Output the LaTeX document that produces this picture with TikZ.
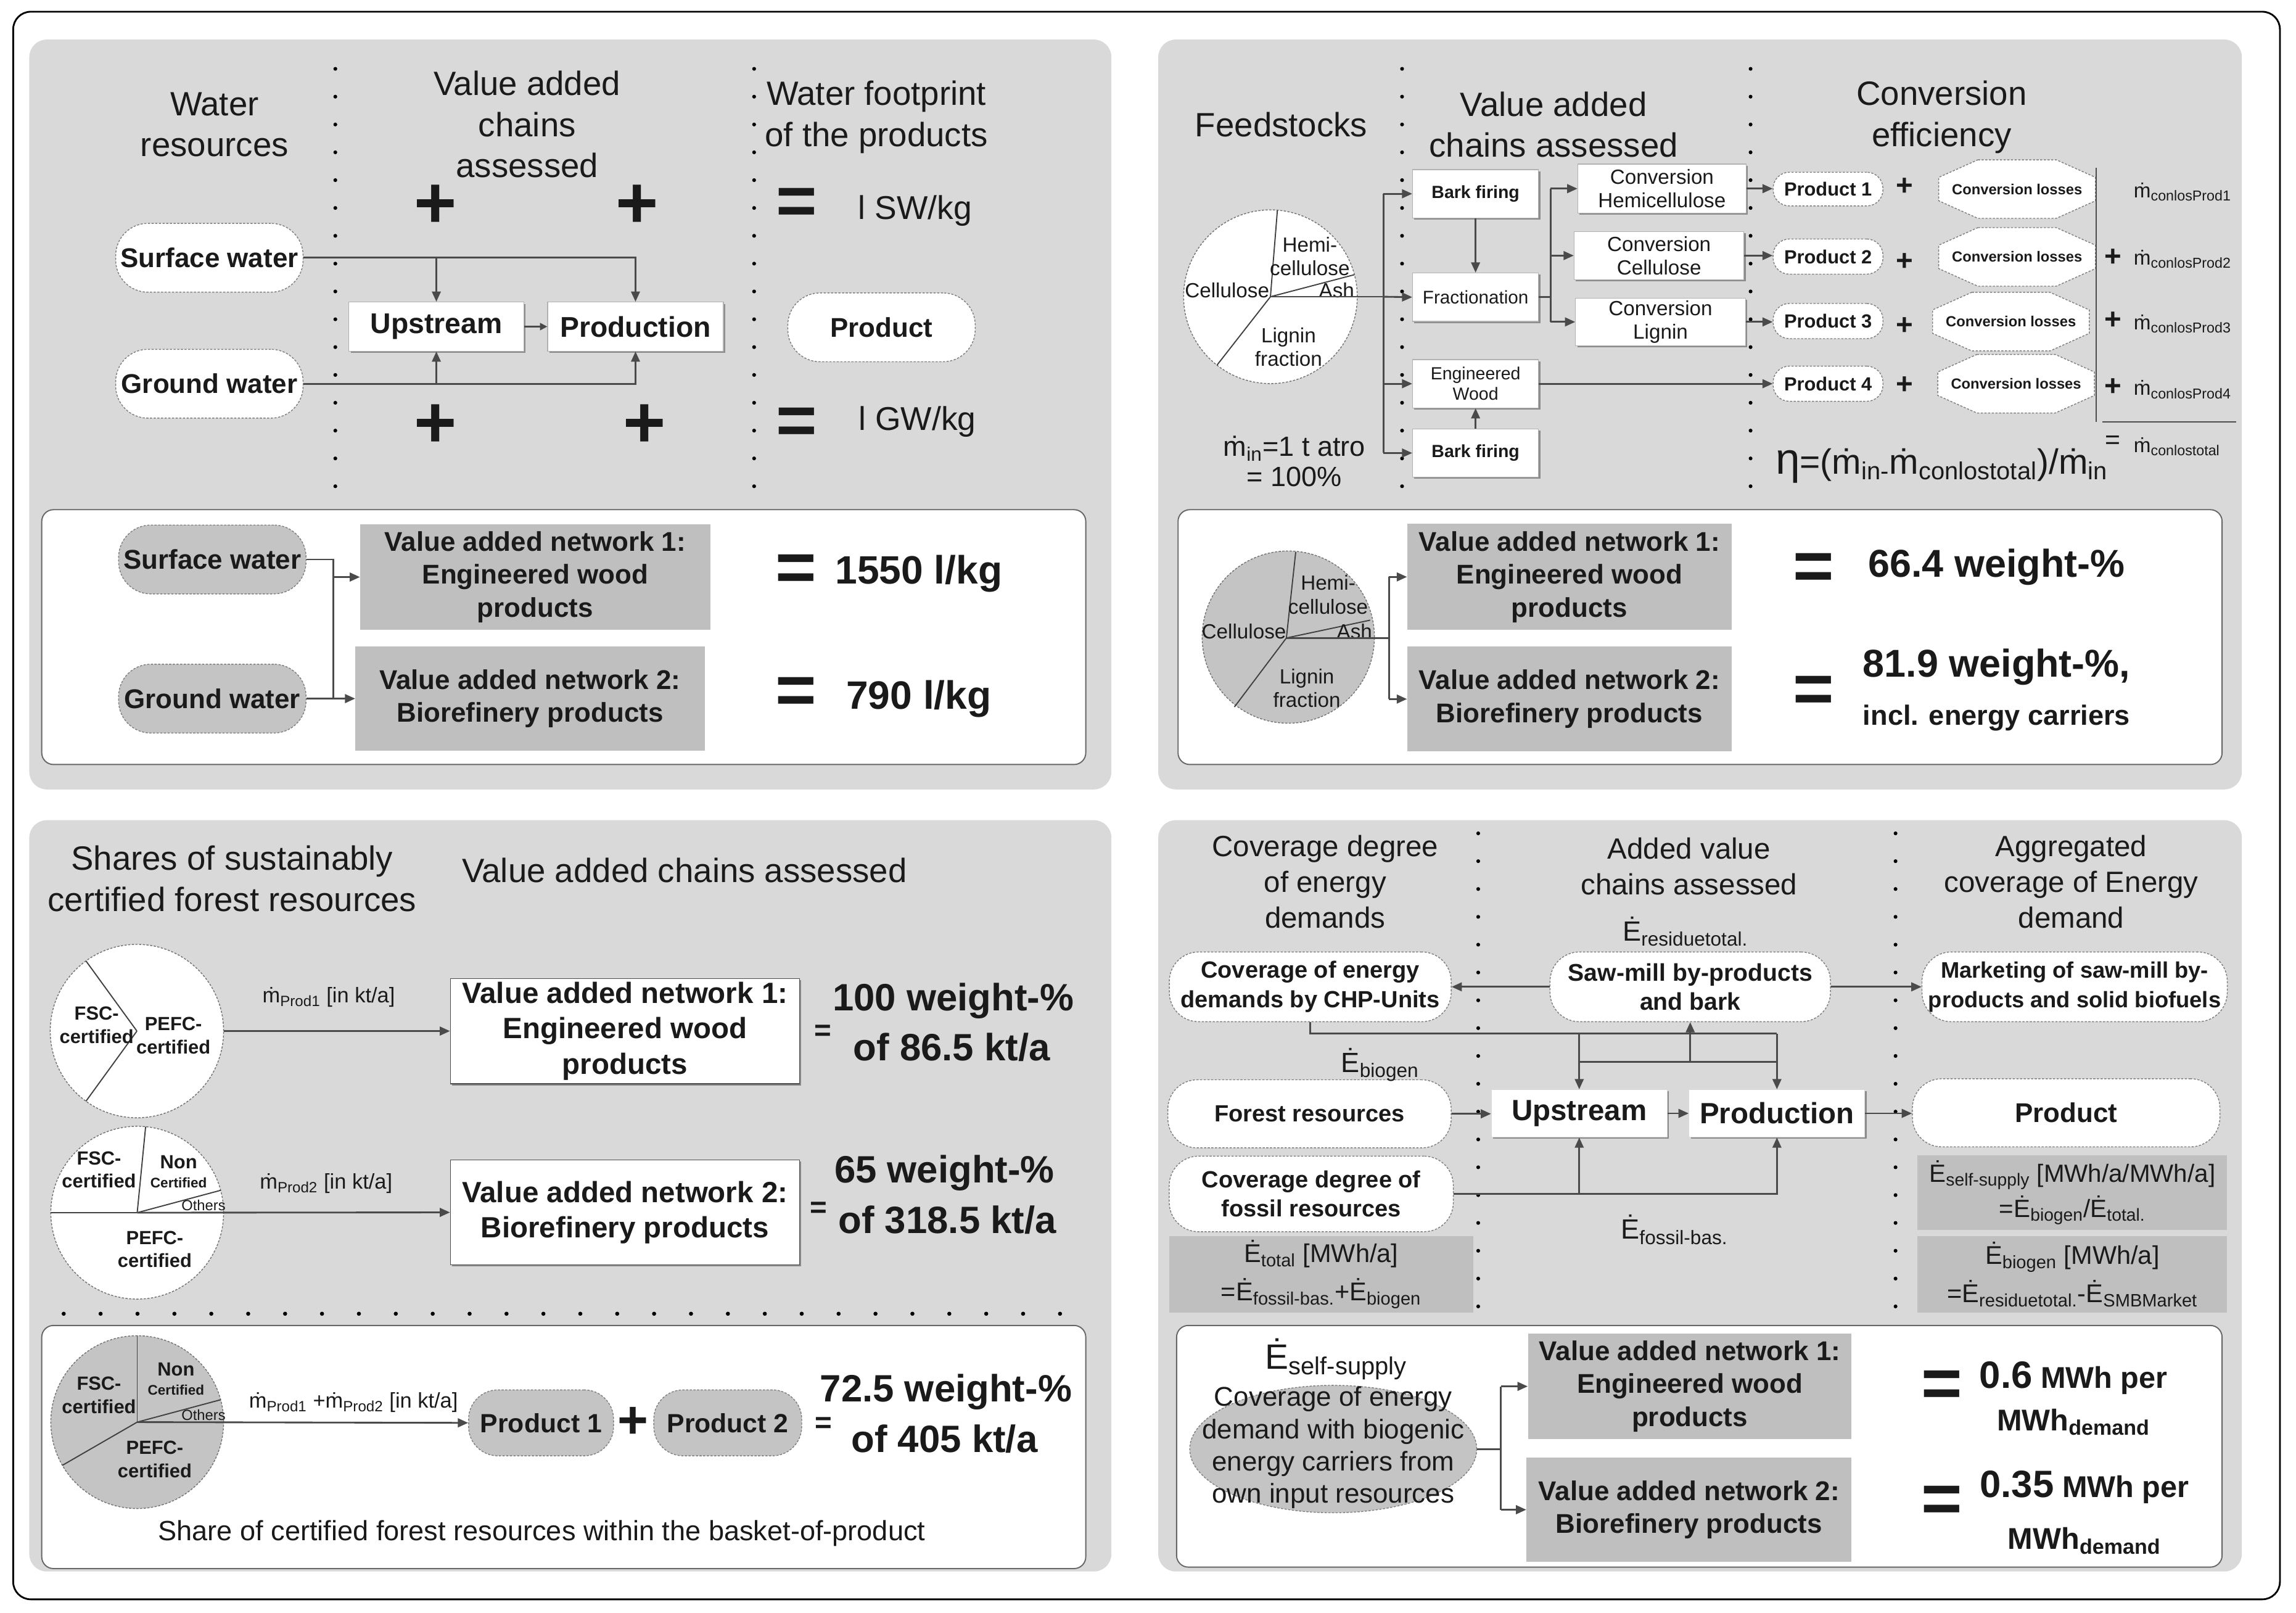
\documentclass[tikz,border=0pt]{standalone}
\usepackage{fontspec}
\setmainfont{Liberation Sans}
\newfontfamily\dejavu{DejaVu Sans}
\usetikzlibrary{arrows.meta,shapes.geometric,shadows}
\definecolor{panel}{HTML}{D9D9D9}
\definecolor{dbox}{HTML}{BFBFBF}
\definecolor{gpie}{HTML}{C4C4C4}
\definecolor{lnc}{HTML}{4A4A4A}
\definecolor{txt}{HTML}{1A1A1A}
\newcommand\fs[2]{\fontsize{#1}{#2}\selectfont}
\newcommand\dm{\iffontchar\font"1E41 \char"1E41\relax\else{\dejavu\char"1E41\relax}\fi}
\newcommand\sbs[1]{\textsubscript{#1}}
\begin{document}
\begin{tikzpicture}[x=1pt,y=-1pt,
  every node/.append style={text=txt},
  ttl/.style={align=center,inner sep=0pt,font=\fs{23}{28}},
  lbl/.style={align=center,inner sep=0pt},
  pill/.style={rectangle,rounded corners=#1,fill=white,draw=black!50,line width=0.6pt,dash pattern=on 1.5pt off 1pt,inner sep=0pt,align=center},
  gpill/.style={pill=#1,fill=gpie},
  shdw/.style={drop shadow={shadow xshift=1.2pt,shadow yshift=-1.2pt,fill=black!45,opacity=1}},
  wbox/.style={rectangle,fill=white,draw=black!30,line width=0.5pt,inner sep=0pt,align=center,shdw},
  gbox/.style={rectangle,fill=dbox,draw=none,inner sep=0pt,align=center},
  cnx/.style={draw=lnc,line width=1.2pt},
  arw/.style={cnx,-{Triangle[length=7pt,width=6pt]}},
  dotline/.style={draw=black,line width=2.6pt,line cap=round,dash pattern=on 0pt off 19pt},
  hdotline/.style={draw=black,line width=2.8pt,line cap=round,dash pattern=on 0pt off 25.2pt},
  bigeq/.style={inner sep=0pt,font=\bfseries\fs{48}{48}},
  bigplus/.style={inner sep=0pt,font=\bfseries\fs{50}{50}},
  octb/.style={fill=white,draw=black!50,line width=0.6pt,dash pattern=on 1.5pt off 1pt},
  pieb/.style={draw=black!55,line width=0.6pt,dash pattern=on 1.5pt off 1pt},
  piel/.style={draw=black!75,line width=0.8pt},
  vanf/.style={font=\bfseries\fs{18.5}{22.5}},
  resf/.style={lbl,font=\bfseries\fs{26}{30}}
]
\useasboundingbox (0,0) rectangle (1568,1101);
\fill[white] (0,0) rectangle (1568,1101);
\draw[black,line width=1.2pt,rounded corners=12pt] (9,8) rectangle (1557,1092);

% ================= Q1 =================
\fill[panel,rounded corners=12pt] (20,27) rectangle (759,539);
\filldraw[fill=white,draw=black!60,line width=0.8pt,rounded corners=8pt] (28.5,348) rectangle (741.5,522);
\node[ttl] (t1a) at (146.5,85) {Water\\resources};
\node[ttl] (t1b) at (360,85) {Value added\\chains\\assessed};
\node[ttl] (t1c) at (598.5,80) {Water footprint\\of the products};
\draw[dotline] (229,47) -- (229,332);
\draw[dotline] (515,47) -- (515,332);
\node[bigplus] (pl1) at (297.5,141) {+};
\node[bigplus] (pl2) at (435,141) {+};
\node[bigplus] (pl3) at (297.5,291) {+};
\node[bigplus] (pl4) at (440,291) {+};
\node[bigeq] (eq1) at (544,141) {=};
\node[bigeq] (eq2) at (544,291) {=};
\node[lbl,font=\fs{22.5}{26}] (swkg) at (625,144) {l SW/kg};
\node[lbl,font=\fs{22.5}{26}] (gwkg) at (626.5,288) {l GW/kg};
\node[pill=22pt,minimum width=128pt,minimum height=47pt,font=\bfseries\fs{18.5}{22}] (sw1) at (143,176) {Surface water};
\node[pill=22pt,minimum width=128pt,minimum height=47pt,font=\bfseries\fs{18.5}{22}] (gw1) at (143,262) {Ground water};
\node[wbox,minimum width=119.5pt,minimum height=33.5pt,font=\bfseries\fs{19.5}{22}] (up1) at (298,223) {Upstream};
\node[wbox,minimum width=120pt,minimum height=33.5pt,font=\bfseries\fs{19.5}{22}] (pr1) at (434,223) {Production};
\node[pill=22pt,minimum width=128pt,minimum height=47pt,font=\bfseries\fs{18.5}{22}] (pd1) at (602,223.5) {Product};
\draw[arw] (sw1.east) -| (pr1.north);
\draw[arw] (sw1.east -| up1.north) -- (up1.north);
\draw[arw] (gw1.east) -| (pr1.south);
\draw[arw] (gw1.east -| up1.south) -- (up1.south);
\draw[cnx,line width=0.9pt,-{Triangle[length=5pt,width=5pt]}] (up1.east) -- (pr1.west);
% Q1 lower
\node[gpill=22pt,minimum width=128pt,minimum height=47pt,font=\bfseries\fs{18.5}{22}] (sw2) at (145,382) {Surface water};
\node[gpill=22pt,minimum width=128pt,minimum height=47pt,font=\bfseries\fs{18.5}{22}] (gw2) at (145,477) {Ground water};
\node[gbox,minimum width=239pt,minimum height=72pt,vanf] (v1a) at (365.5,394) {Value added network 1:\\Engineered wood\\products};
\node[gbox,minimum width=238.5pt,minimum height=71.5pt,vanf] (v2a) at (362,477) {Value added network 2:\\Biorefinery products};
\coordinate (j1) at (227.5,382);
\draw[cnx] (sw2.east) -- (j1) -- (j1 |- gw2.east);
\draw[arw] (j1 |- v1a.west) -- (v1a.west);
\draw[arw] (gw2.east) -- (v2a.west);
\node[bigeq] (eq3) at (543.5,391) {=};
\node[bigeq] (eq4) at (543.5,475) {=};
\node[lbl,font=\bfseries\fs{27}{30}] (r1a) at (627.5,391.6) {1550 l/kg};
\node[lbl,font=\bfseries\fs{27}{30}] (r2a) at (627.5,477) {790 l/kg};

% ================= Q2 =================
\fill[panel,rounded corners=12pt] (791,27) rectangle (1531,539);
\filldraw[fill=white,draw=black!60,line width=0.8pt,rounded corners=8pt] (804.5,348) rectangle (1517.5,522);
\node[ttl] (t2a) at (875,85) {Feedstocks};
\node[ttl] (t2b) at (1061,85) {Value added\\chains assessed};
\node[ttl] (t2c) at (1326,80) {Conversion\\efficiency};
\draw[dotline] (957.5,47) -- (957.5,332);
\draw[dotline] (1195.5,47) -- (1195.5,332);
% pie
\coordinate (pc1) at (867.6,202.6);
\draw[pieb,fill=white] (pc1) circle[radius=59.3pt];
\draw[piel] (pc1) -- ++(85.4:59.3pt);
\draw[piel] (pc1) -- ++(14.7:59.3pt);
\draw[piel] (pc1) -- ++(232:59.3pt);
\node[lbl,font=\fs{14}{16}] (ph1) at (894.5,175) {Hemi-\\cellulose};
\node[lbl,font=\fs{14}{16}] (pcel1) at (838,198.4) {Cellulose};
\node[lbl,font=\fs{14}{16}] (pash1) at (912.8,198.4) {Ash};
\node[lbl,font=\fs{14}{16}] (plg1) at (880,237) {Lignin\\fraction};
\node[lbl,font=\fs{19}{21}] (min) at (884,315) {\dm\sbs{in}=1 t atro\\= 100\%};
% boxes
\node[wbox,minimum width=86pt,minimum height=33pt,font=\bfseries\fs{12}{14}] (bf1) at (1007.7,132.3) {Bark firing};
\node[wbox,minimum width=86pt,minimum height=33pt,font=\fs{12.5}{14}] (fr) at (1007.7,202.9) {Fractionation};
\node[wbox,minimum width=86pt,minimum height=33pt,font=\fs{12}{14}] (ew) at (1007.7,262) {Engineered\\Wood};
\node[wbox,minimum width=86pt,minimum height=33pt,font=\bfseries\fs{12}{14}] (bf2) at (1007.7,309.3) {Bark firing};
\node[wbox,minimum width=115pt,minimum height=33.5pt,font=\fs{14}{16}] (ch) at (1135,128.8) {Conversion\\Hemicellulose};
\node[wbox,minimum width=116pt,minimum height=33pt,font=\fs{14}{16}] (cc) at (1133,174.5) {Conversion\\Cellulose};
\node[wbox,minimum width=116pt,minimum height=32.5pt,font=\fs{14}{16}] (cl) at (1134,219.8) {Conversion\\Lignin};
\coordinate (br1) at (944.7,202.6);
\draw[cnx] (pc1) -- (br1);
\draw[cnx] (br1 |- bf1.west) -- (br1 |- bf2.west);
\draw[arw] (br1 |- bf1.west) -- (bf1.west);
\draw[arw] (br1) -- (fr.west);
\draw[arw] (br1 |- ew.west) -- (ew.west);
\draw[arw] (br1 |- bf2.west) -- (bf2.west);
\draw[arw] (bf1.south) -- (fr.north);
\draw[arw] (bf2.north) -- (ew.south);
\coordinate (br2) at (1059,202.9);
\draw[cnx] (fr.east) -- (br2);
\draw[cnx] (br2 |- ch.west) -- (br2 |- cl.west);
\draw[arw] (br2 |- ch.west) -- (ch.west);
\draw[arw] (br2 |- cc.west) -- (cc.west);
\draw[arw] (br2 |- cl.west) -- (cl.west);
% products
\node[pill=11pt,minimum width=75pt,minimum height=23pt,font=\bfseries\fs{13}{15}] (p1) at (1248.4,129.1) {Product 1};
\node[pill=11pt,minimum width=75pt,minimum height=24pt,font=\bfseries\fs{13}{15}] (p2) at (1248.4,175.2) {Product 2};
\node[pill=11pt,minimum width=75pt,minimum height=24pt,font=\bfseries\fs{13}{15}] (p3) at (1248.4,219.2) {Product 3};
\node[pill=11pt,minimum width=75pt,minimum height=24pt,font=\bfseries\fs{13}{15}] (p4) at (1248.4,262) {Product 4};
\draw[arw] (ch.east) -- (ch.east -| p1.west);
\draw[arw] (cc.east) -- (cc.east -| p2.west);
\draw[arw] (cl.east) -- (cl.east -| p3.west);
\draw[arw] (ew.east) -- (ew.east -| p4.west);
\node[lbl,font=\bfseries\fs{20}{20}] (pa1) at (1300.7,127.5) {+};
\node[lbl,font=\bfseries\fs{20}{20}] (pa2) at (1300.7,179) {+};
\node[lbl,font=\bfseries\fs{20}{20}] (pa3) at (1300.7,222.6) {+};
\node[lbl,font=\bfseries\fs{20}{20}] (pa4) at (1300.7,263) {+};
% octagons
\draw[octb,shift={(1377.5,129.1)}] (-26.75,-20) -- (26.75,-20) -- (53.5,-8) -- (53.5,8) -- (26.75,20) -- (-26.75,20) -- (-53.5,8) -- (-53.5,-8) -- cycle;
\draw[octb,shift={(1377.5,175.4)}] (-26.75,-20) -- (26.75,-20) -- (53.5,-8) -- (53.5,8) -- (26.75,20) -- (-26.75,20) -- (-53.5,8) -- (-53.5,-8) -- cycle;
\draw[octb,shift={(1373.3,219.6)}] (-26.75,-20) -- (26.75,-20) -- (53.5,-8) -- (53.5,8) -- (26.75,20) -- (-26.75,20) -- (-53.5,8) -- (-53.5,-8) -- cycle;
\draw[octb,shift={(1376.8,262)}] (-26.75,-20) -- (26.75,-20) -- (53.5,-8) -- (53.5,8) -- (26.75,20) -- (-26.75,20) -- (-53.5,8) -- (-53.5,-8) -- cycle;
\node[lbl,font=\bfseries\fs{10}{12}] (o1) at (1377.5,129.1) {Conversion losses};
\node[lbl,font=\bfseries\fs{10}{12}] (o2) at (1377.5,175.4) {Conversion losses};
\node[lbl,font=\bfseries\fs{10}{12}] (o3) at (1373.3,219.6) {Conversion losses};
\node[lbl,font=\bfseries\fs{10}{12}] (o4) at (1376.8,262) {Conversion losses};
\draw[black!70,line width=0.8pt] (1431.5,114.6) -- (1431.5,288);
\draw[black!70,line width=1pt] (1435.8,288) -- (1527,288);
\node[lbl,font=\bfseries\fs{20}{20}] (pb2) at (1443,175.9) {+};
\node[lbl,font=\bfseries\fs{20}{20}] (pb3) at (1443,218.9) {+};
\node[lbl,font=\bfseries\fs{20}{20}] (pb4) at (1443,264.5) {+};
\node[lbl,font=\fs{18}{18}] (eqm) at (1443,302) {=};
\node[lbl,anchor=west,font=\fs{14}{16}] (m1) at (1457,131) {\dm\sbs{conlosProd1}};
\node[lbl,anchor=west,font=\fs{14}{16}] (m2) at (1457,177) {\dm\sbs{conlosProd2}};
\node[lbl,anchor=west,font=\fs{14}{16}] (m3) at (1457,221) {\dm\sbs{conlosProd3}};
\node[lbl,anchor=west,font=\fs{14}{16}] (m4) at (1457,266) {\dm\sbs{conlosProd4}};
\node[lbl,anchor=west,font=\fs{14}{16}] (m5) at (1457,305) {\dm\sbs{conlostotal}};
\node[lbl,font=\fs{24}{26}] (eta) at (1326,318) {{\fs{30}{30}η}=(\dm\sbs{in-}\dm\sbs{conlostotal})/\dm\sbs{in}};
% Q2 lower
\coordinate (pc2) at (878.5,435.6);
\draw[pieb,fill=gpie] (879.8,435) circle[radius=58.8pt];
\draw[piel] (pc2) -- ++(83.8:59pt);
\draw[piel] (pc2) -- ++(12:58.5pt);
\draw[piel] (pc2) -- ++(233:59pt);
\node[lbl,font=\fs{14}{16.5}] (ph2) at (907,406) {Hemi-\\cellulose};
\node[lbl,font=\fs{14}{16}] (pcel2) at (849.5,431) {Cellulose};
\node[lbl,font=\fs{14}{16}] (pash2) at (925,431) {Ash};
\node[lbl,font=\fs{14}{16}] (plg2) at (892.5,470) {Lignin\\fraction};
\node[gbox,minimum width=221.5pt,minimum height=72.3pt,vanf] (v1b) at (1071.8,393.9) {Value added network 1:\\Engineered wood\\products};
\node[gbox,minimum width=221.5pt,minimum height=71.5pt,vanf] (v2b) at (1071.8,477.3) {Value added network 2:\\Biorefinery products};
\coordinate (br3) at (948.5,435.6);
\draw[cnx] (pc2) -- (br3);
\draw[cnx] (br3 |- v1b.west) -- (br3 |- v2b.west);
\draw[arw] (br3 |- v1b.west) -- (v1b.west);
\draw[arw] (br3 |- v2b.west) -- (v2b.west);
\node[bigeq] (eq5) at (1238.5,390.2) {=};
\node[bigeq] (eq6) at (1238.5,474) {=};
\node[lbl,font=\bfseries\fs{26.5}{30}] (r1b) at (1363.5,387.4) {66.4 weight-\%};
\node[lbl,font=\bfseries\fs{26.5}{30}] (r2b) at (1363.5,455.4) {81.9 weight-\%,};
\node[lbl,font=\bfseries\fs{19}{22}] (r3b) at (1363.5,490.3) {incl. energy carriers};

% ================= Q3 =================
\fill[panel,rounded corners=12pt] (20,560) rectangle (759,1073);
\filldraw[fill=white,draw=black!60,line width=0.8pt,rounded corners=8pt] (28.5,905) rectangle (741.5,1071);
\node[ttl] (t3a) at (158.5,600) {Shares of sustainably\\certified forest resources};
\node[ttl] (t3b) at (467.5,594.2) {Value added chains assessed};
% pie 1
\coordinate (pq1) at (93.5,704);
\draw[pieb,fill=white] (pq1) circle[radius=59.2pt];
\draw[piel] (pq1) -- ++(126:59.2pt);
\draw[piel] (pq1) -- ++(234:59.2pt);
\node[lbl,font=\bfseries\fs{13}{15.8}] (fsc1) at (66,700) {FSC-\\certified};
\node[lbl,font=\bfseries\fs{13}{15.8}] (pefc1) at (118.4,707) {PEFC-\\certified};
\coordinate (pe1) at (152.7,704);
\node[wbox,draw=black!70,minimum width=238.5pt,minimum height=72pt,font=\bfseries\fs{20}{24.2}] (v1c) at (426.8,704) {Value added network 1:\\Engineered wood\\products};
\draw[arw] (pe1) -- (v1c.west);
\node[lbl,font=\fs{14.5}{16}] (lq1) at (224.5,681) {\dm\sbs{Prod1} [in kt/a]};
\node[lbl,font=\bfseries\fs{20}{20}] (eq7) at (562,705) {=};
\node[resf] (r1c) at (651,683.5) {100 weight-\%};
\node[resf] (r1cb) at (650,715) {of 86.5 kt/a};
% pie 2
\coordinate (pq2) at (93.7,828);
\draw[pieb,fill=white] (pq2) circle[radius=59pt];
\draw[piel] (pq2) -- ++(180:59pt);
\draw[piel] (pq2) -- ++(84.4:59pt);
\draw[piel] (pq2) -- ++(15:59pt);
\node[lbl,font=\bfseries\fs{13}{15.8}] (fsc2) at (67.6,798.7) {FSC-\\certified};
\node[lbl,font=\bfseries\fs{13}{15}] (non2) at (122,793.6) {Non};
\node[lbl,font=\bfseries\fs{9.5}{11}] (nc2) at (122,807.5) {Certified};
\node[lbl,font=\fs{10}{11}] (oth2) at (139,823) {Others};
\node[lbl,font=\bfseries\fs{13}{15.8}] (pefc2) at (105.7,853) {PEFC-\\certified};
\node[wbox,draw=black!70,minimum width=238.5pt,minimum height=71.5pt,font=\bfseries\fs{20}{24.2}] (v2c) at (426.8,827.8) {Value added network 2:\\Biorefinery products};
\draw[arw] (pq2) -- (v2c.west);
\node[lbl,font=\fs{14.5}{16}] (lq2) at (222.7,808) {\dm\sbs{Prod2} [in kt/a]};
\node[lbl,font=\bfseries\fs{20}{20}] (eq8) at (559,826) {=};
\node[resf] (r2c) at (645,801) {65 weight-\%};
\node[resf] (r2cb) at (647,833) {of 318.5 kt/a};
\draw[hdotline] (43.5,897) -- (724,897);
% pie 3
\coordinate (pq3) at (93.7,971);
\draw[pieb,fill=gpie] (pq3) circle[radius=59pt];
\draw[piel] (pq3) -- ++(90:59pt);
\draw[piel] (pq3) -- ++(15:59pt);
\draw[piel] (pq3) -- ++(210:59pt);
\node[lbl,font=\bfseries\fs{13}{15.8}] (fsc3) at (67.6,952.7) {FSC-\\certified};
\node[lbl,font=\bfseries\fs{13}{15}] (non3) at (120.2,935) {Non};
\node[lbl,font=\bfseries\fs{9.5}{11}] (nc3) at (120.2,949) {Certified};
\node[lbl,font=\fs{10}{11}] (oth3) at (139,966) {Others};
\node[lbl,font=\bfseries\fs{13}{15.8}] (pefc3) at (105.7,996.3) {PEFC-\\certified};
\node[gpill=20pt,minimum width=99pt,minimum height=45pt,font=\bfseries\fs{18}{20}] (pr3a) at (369.5,971.5) {Product 1};
\node[gpill=20pt,minimum width=101pt,minimum height=45pt,font=\bfseries\fs{18}{20}] (pr3b) at (497,971.5) {Product 2};
\draw[arw] (pq3) -- (pr3a.west);
\node[lbl,font=\fs{14.5}{16}] (lq3) at (241.4,957.7) {\dm\sbs{Prod1} +\dm\sbs{Prod2} [in kt/a]};
\node[lbl,font=\bfseries\fs{36}{36}] (pl5) at (432.5,971.2) {+};
\node[lbl,font=\bfseries\fs{20}{20}] (eq9) at (562.5,973) {=};
\node[resf] (r3c) at (646,950.4) {72.5 weight-\%};
\node[resf] (r3cb) at (645,982.5) {of 405 kt/a};
\node[lbl,font=\fs{19}{22}] (share) at (370,1047) {Share of certified forest resources within the basket-of-product};

% ================= Q4 =================
\fill[panel,rounded corners=12pt] (791,560) rectangle (1531,1073);
\filldraw[fill=white,draw=black!60,line width=0.8pt,rounded corners=8pt] (803.5,905) rectangle (1517.5,1070);
\node[ttl,font=\fs{20}{24.5}] (t4a) at (905,602) {Coverage degree\\of energy\\demands};
\node[ttl,font=\fs{20}{24.5}] (t4b) at (1153.5,591.5) {Added value\\chains assessed};
\node[ttl,font=\fs{20}{24.5}] (t4c) at (1414.5,602) {Aggregated\\coverage of Energy\\demand};
\draw[dotline] (1009.5,569) -- (1009.5,892);
\draw[dotline] (1294.5,569) -- (1294.5,892);
\node[lbl,font=\fs{19}{21}] (eres) at (1151,636) {Ė\sbs{residuetotal.}};
\node[pill=20pt,minimum width=192.5pt,minimum height=47.6pt,font=\bfseries\fs{16}{20}] (chp) at (894.8,673.8) {Coverage of energy\\demands by CHP-Units};
\node[pill=20pt,minimum width=191.5pt,minimum height=47.6pt,font=\bfseries\fs{16.5}{20}] (saw) at (1154.3,673.8) {Saw-mill by-products\\and bark};
\node[pill=20pt,minimum width=208.5pt,minimum height=47.6pt,font=\bfseries\fs{15.3}{20}] (mkt) at (1416.8,673.8) {Marketing of saw-mill by-\\products and solid biofuels};
\draw[arw] (saw.west) -- (chp.east);
\draw[arw] (saw.east) -- (mkt.west);
\node[pill=20pt,minimum width=193.5pt,minimum height=46.5pt,font=\bfseries\fs{16}{20}] (frs) at (894.3,760.5) {Forest resources};
\node[lbl,font=\fs{19}{21}] (ebio) at (942.5,727) {Ė\sbs{biogen}};
\node[wbox,draw=black!15,minimum width=120pt,minimum height=32.4pt,font=\bfseries\fs{20}{22}] (up4) at (1078.5,760.2) {Upstream};
\node[wbox,draw=black!15,minimum width=120pt,minimum height=32.4pt,font=\bfseries\fs{20}{22}] (pr4) at (1213.5,760.2) {Production};
\node[pill=20pt,minimum width=210pt,minimum height=46.5pt,font=\bfseries\fs{18.5}{20}] (pp4) at (1411,759.8) {Product};
\node[pill=20pt,minimum width=194pt,minimum height=51.6pt,font=\bfseries\fs{16}{20}] (fos) at (895.5,815.2) {Coverage degree of\\fossil resources};
\coordinate (h1) at (0,705.7);
\coordinate (h2) at (0,725);
\draw[cnx] (chp.south) |- (pr4.north |- h1);
\draw[arw] (pr4.north |- h1) -- (pr4.north);
\draw[arw] (up4.north |- h1) -- (up4.north);
\draw[cnx] (up4.north |- h2) -- (pr4.north |- h2);
\draw[arw] (saw.south |- h2) -- (saw.south);
\draw[arw] (frs.east) -- (frs.east -| up4.west);
\draw[arw] (up4.east) -- (pr4.west);
\draw[arw] (pr4.east) -- (pr4.east -| pp4.west);
\draw[arw] (fos.east) -| (pr4.south);
\draw[arw] (fos.east -| up4.south) -- (up4.south);
\node[lbl,font=\fs{19}{21}] (efos) at (1143.5,839.5) {Ė\sbs{fossil-bas.}};
\node[gbox,minimum width=207.5pt,minimum height=52.4pt,font=\fs{17.5}{26}] (etot) at (902.25,870.2) {Ė\sbs{total} [MWh/a]\\=Ė\sbs{fossil-bas.}+Ė\sbs{biogen}};
\node[gbox,minimum width=211.5pt,minimum height=51.3pt,font=\fs{17}{24}] (ess) at (1415.25,814.35) {Ė\sbs{self-supply} [MWh/a/MWh/a]\\=Ė\sbs{biogen}/Ė\sbs{total.}};
\node[gbox,minimum width=211.5pt,minimum height=52.4pt,font=\fs{17.5}{26}] (ebg) at (1415.25,870.2) {Ė\sbs{biogen} [MWh/a]\\=Ė\sbs{residuetotal.}-Ė\sbs{SMBMarket}};
% Q4 lower
\node[lbl,font=\fs{24}{26}] (essl) at (912.5,928) {Ė\sbs{self-supply}};
\node[ellipse,fill=gpie,draw=black!50,line width=0.6pt,dash pattern=on 1.5pt off 1pt,minimum width=196pt,minimum height=87pt,inner sep=0pt] (ell) at (910.5,989.4) {};
\node[lbl,font=\fs{18.5}{22}] (ellt) at (910.5,988.4) {Coverage of energy\\demand with biogenic\\energy carriers from\\own input resources};
\node[gbox,minimum width=221pt,minimum height=72.3pt,vanf] (v1d) at (1154,946.6) {Value added network 1:\\Engineered wood\\products};
\node[gbox,minimum width=222pt,minimum height=71.5pt,vanf] (v2d) at (1153.5,1030.8) {Value added network 2:\\Biorefinery products};
\coordinate (br4) at (1025,989.4);
\draw[cnx] (ell.east) -- (br4);
\draw[cnx] (br4 |- v1d.west) -- (br4 |- v2d.west);
\draw[arw] (br4 |- v1d.west) -- (v1d.west);
\draw[arw] (br4 |- v2d.west) -- (v2d.west);
\node[bigeq] (eq10) at (1326,948.3) {=};
\node[bigeq] (eq11) at (1326,1027) {=};
\node[lbl,font=\bfseries\fs{20.5}{24}] (r1d) at (1416,941) {{\fs{26}{26}0.6} MWh per};
\node[lbl,font=\bfseries\fs{20.5}{24}] (r1e) at (1416,971) {MWh\sbs{demand}};
\node[lbl,font=\bfseries\fs{20.5}{24}] (r2d) at (1423.5,1015.4) {{\fs{26}{26}0.35} MWh per};
\node[lbl,font=\bfseries\fs{20.5}{24}] (r2e) at (1423.5,1052) {MWh\sbs{demand}};
\end{tikzpicture}
\end{document}
